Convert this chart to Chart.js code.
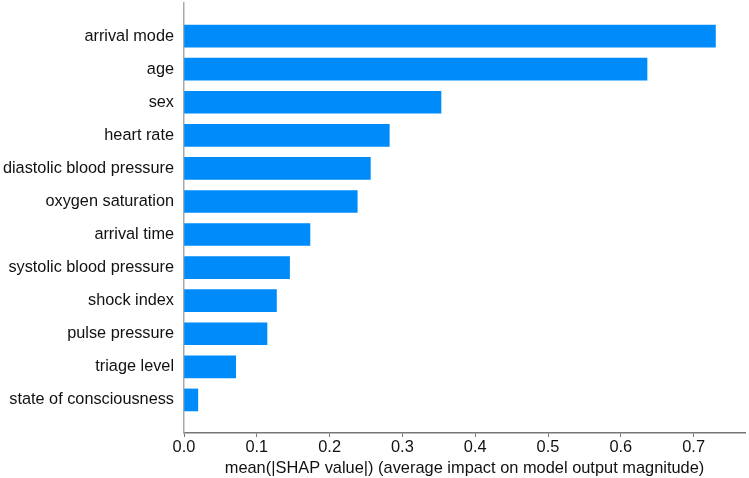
<!DOCTYPE html>
<html>
<head>
<meta charset="utf-8">
<script src="https://cdn.jsdelivr.net/npm/chart.js@4.4.1/dist/chart.umd.min.js"></script>
<style>
  html, body { margin: 0; padding: 0; background: #fff; }
  #wrap { width: 749px; height: 478px; }
</style>
</head>
<body>
<div id="wrap"><canvas id="myChart"></canvas></div>
<script>
// Features, top to bottom
const features = ['arrival mode', 'age', 'sex', 'heart rate', 'diastolic blood pressure',
    'oxygen saturation', 'arrival time', 'systolic blood pressure', 'shock index',
    'pulse pressure', 'triage level', 'state of consciousness'];
// mean(|SHAP value|)
const shapValues = [0.730, 0.636, 0.353, 0.282, 0.256, 0.238, 0.173, 0.145, 0.127, 0.114, 0.071, 0.019];
const xTicks = [0, 0.1, 0.2, 0.3, 0.4, 0.5, 0.6, 0.7];

const font = "'Liberation Sans', Arial, sans-serif";

// bars sit on a linear y scale so the empty slot above and below can be kept
const points = shapValues.map((v, i) => ({x: v, y: i}));

const ctx = document.getElementById('myChart').getContext('2d');
const myChart = new Chart(ctx, {
    type: 'bar',
    data: {
        datasets: [{
            data: points,
            backgroundColor: '#008bfb',
            borderWidth: 0,
            barThickness: 22
        }]
    },
    options: {
        indexAxis: 'y',
        responsive: true,
        maintainAspectRatio: false,
        animation: false,
        layout: { padding: { top: 3, right: 4, left: 0, bottom: 0 } },
        plugins: {
            legend: { display: false },
            tooltip: { enabled: false }
        },
        scales: {
            x: {
                type: 'linear',
                min: 0,
                max: 0.7706,
                afterBuildTicks: (scale) => { scale.ticks = xTicks.map(v => ({value: v})); },
                afterFit: (scale) => {
                    scale.height = 45;
                    scale.paddingLeft = 0;
                    scale.paddingRight = 0;
                },
                ticks: {
                    color: '#111',
                    font: { family: font, size: 16.4 },
                    padding: 1,
                    maxRotation: 0,
                    callback: (v) => Number(v).toFixed(1)
                },
                grid: { drawOnChartArea: false, drawTicks: true, tickLength: 4, color: '#777', lineWidth: 1 },
                border: { color: '#777', width: 1.5 },
                title: {
                    display: true,
                    text: 'mean(|SHAP value|) (average impact on model output magnitude)',
                    color: '#111',
                    font: { family: font, size: 16.4 },
                    padding: { top: 0, bottom: 0 }
                }
            },
            y: {
                type: 'linear',
                reverse: true,
                offset: false,
                min: -1,
                max: 12,
                afterBuildTicks: (scale) => { scale.ticks = features.map((f, i) => ({value: i})); },
                afterFit: (scale) => {
                    scale.width = 184;
                    scale.paddingTop = 0;
                    scale.paddingBottom = 0;
                },
                ticks: {
                    color: '#111',
                    font: { family: font, size: 16.3 },
                    padding: 2,
                    callback: (v) => features[v]
                },
                grid: { display: false },
                border: { color: '#aaa', width: 1.5 }
            }
        }
    }
});
</script>
</body>
</html>
